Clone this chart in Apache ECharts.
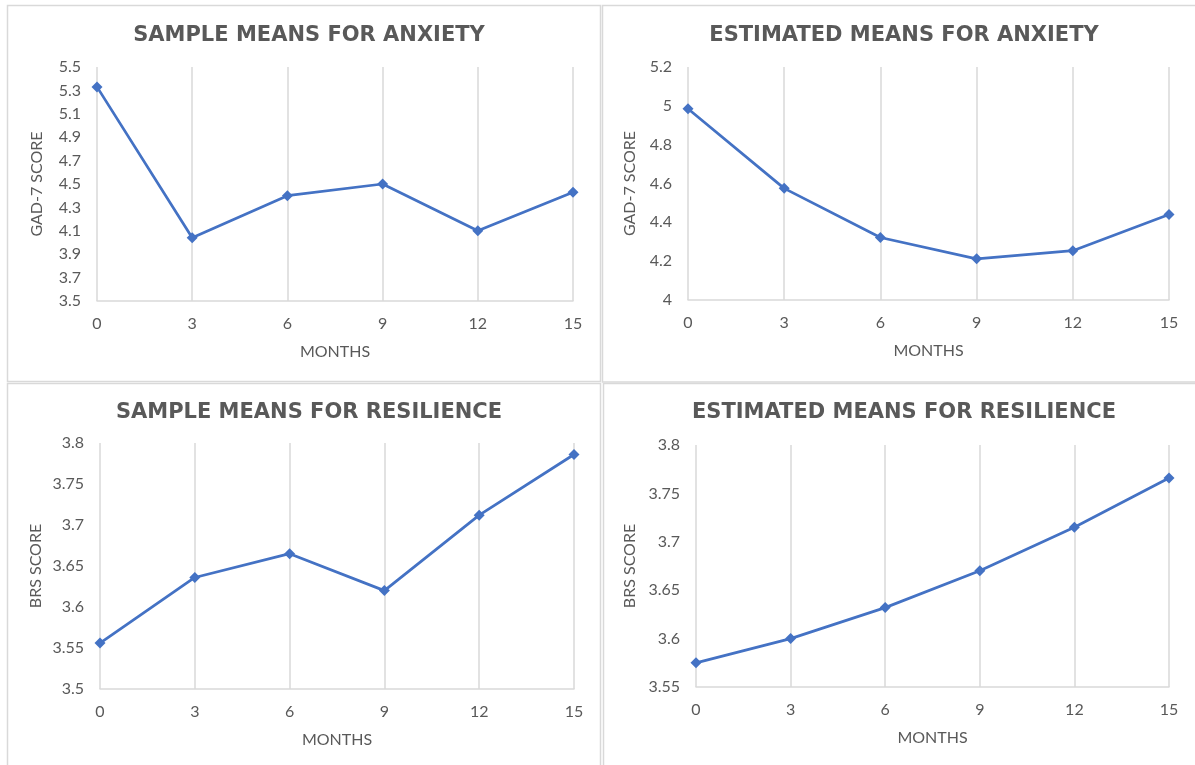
<!DOCTYPE html>
<html>
<head>
<meta charset="utf-8">
<script src="https://cdn.jsdelivr.net/npm/echarts@6/dist/echarts.min.js"></script>
<style>
  html, body { margin: 0; padding: 0; background: #fff; }
  #chart { width: 1195px; height: 765px; }
</style>
</head>
<body>
<div id="chart"></div>
<script>
// Months of follow-up (shared by all four panels)
const months = [0, 3, 6, 9, 12, 15];
const monthTicks = [0, 3, 6, 9, 12, 15];

// GAD-7 anxiety scores
const sampleAnxiety = [5.33, 4.04, 4.40, 4.50, 4.10, 4.43];
const estimatedAnxiety = [4.985, 4.575, 4.322, 4.212, 4.254, 4.44];

// BRS resilience scores
const sampleResilience = [3.556, 3.636, 3.665, 3.620, 3.712, 3.786];
const estimatedResilience = [3.575, 3.600, 3.632, 3.670, 3.715, 3.766];

// y-axis tick labels for each panel
const sampleAnxietyTicks = [3.5, 3.7, 3.9, 4.1, 4.3, 4.5, 4.7, 4.9, 5.1, 5.3, 5.5];
const estimatedAnxietyTicks = [4, 4.2, 4.4, 4.6, 4.8, 5, 5.2];
const sampleResilienceTicks = [3.5, 3.55, 3.6, 3.65, 3.7, 3.75, 3.8];
const estimatedResilienceTicks = [3.55, 3.6, 3.65, 3.7, 3.75, 3.8];

const titles = [
  'SAMPLE MEANS FOR ANXIETY',
  'ESTIMATED MEANS FOR ANXIETY',
  'SAMPLE MEANS FOR RESILIENCE',
  'ESTIMATED MEANS FOR RESILIENCE'
];
const yNames = ['GAD-7 SCORE', 'GAD-7 SCORE', 'BRS SCORE', 'BRS SCORE'];

const TEXT = '#595959';
const GRID = '#d9d9d9';
const LINE = '#4472C4';
const FONT = 'Lato, "Open Sans", sans-serif';
const TITLE_FONT = '"DejaVu Sans", sans-serif';

const panels = [
  { data: sampleAnxiety, ticks: sampleAnxietyTicks, grid: { left: 97, top: 67, width: 476, height: 234 }, tx: 304, ty: 20, yGap: 52 },
  { data: estimatedAnxiety, ticks: estimatedAnxietyTicks, grid: { left: 688, top: 67, width: 481, height: 233 }, tx: 899, ty: 20, yGap: 50 },
  { data: sampleResilience, ticks: sampleResilienceTicks, grid: { left: 100, top: 443, width: 474, height: 246 }, tx: 304, ty: 397, yGap: 56 },
  { data: estimatedResilience, ticks: estimatedResilienceTicks, grid: { left: 696, top: 445, width: 473, height: 242 }, tx: 899, ty: 397, yGap: 58 }
];

const option = {
  backgroundColor: '#fff',
  animation: false,
  title: panels.map((p, i) => ({
    text: titles[i],
    left: p.tx,
    top: p.ty,
    textAlign: 'center',
    textStyle: { color: TEXT, fontFamily: TITLE_FONT, fontWeight: 'bold', fontSize: 21 }
  })),
  grid: panels.map(p => Object.assign({}, p.grid)),
  xAxis: panels.map((p, i) => ({
    type: 'value',
    gridIndex: i,
    min: 0,
    max: 15,
    interval: 3,
    name: 'MONTHS',
    nameLocation: 'middle',
    nameGap: 43,
    nameTextStyle: { color: TEXT, fontFamily: FONT, fontSize: 16 },
    axisLine: { show: true, lineStyle: { color: GRID, width: 1.5 } },
    axisTick: { show: false },
    axisLabel: { color: TEXT, fontFamily: FONT, fontSize: 16, margin: 15, customValues: monthTicks },
    splitLine: { show: true, lineStyle: { color: GRID, width: 1.5 } }
  })),
  yAxis: panels.map((p, i) => ({
    type: 'value',
    gridIndex: i,
    min: p.ticks[0],
    max: p.ticks[p.ticks.length - 1],
    name: yNames[i],
    nameLocation: 'middle',
    nameGap: p.yGap,
    nameTextStyle: { color: TEXT, fontFamily: FONT, fontSize: 16 },
    axisLine: { show: false },
    axisTick: { show: false },
    axisLabel: { color: TEXT, fontFamily: FONT, fontSize: 16, margin: 16, customValues: p.ticks },
    splitLine: { show: false }
  })),
  series: panels.map((p, i) => ({
    type: 'line',
    xAxisIndex: i,
    yAxisIndex: i,
    data: months.map((m, j) => [m, p.data[j]]),
    symbol: 'diamond',
    symbolSize: 11,
    lineStyle: { color: LINE, width: 2.75 },
    itemStyle: { color: LINE },
    z: 3
  })),
  graphic: [
    // panel frames
    { type: 'rect', shape: { x: 7.5, y: 5.5, width: 593, height: 376 }, style: { fill: 'none', stroke: GRID, lineWidth: 1.5 }, silent: true },
    { type: 'rect', shape: { x: 602.5, y: 5.5, width: 600, height: 376.5 }, style: { fill: 'none', stroke: GRID, lineWidth: 1.5 }, silent: true },
    { type: 'rect', shape: { x: 7.5, y: 383.5, width: 593, height: 390 }, style: { fill: 'none', stroke: GRID, lineWidth: 1.5 }, silent: true },
    { type: 'rect', shape: { x: 603.5, y: 383.5, width: 600, height: 390 }, style: { fill: 'none', stroke: GRID, lineWidth: 1.5 }, silent: true }
  ]
};

const chart = echarts.init(document.getElementById('chart'), null, { renderer: 'canvas' });
chart.setOption(option);
</script>
</body>
</html>
